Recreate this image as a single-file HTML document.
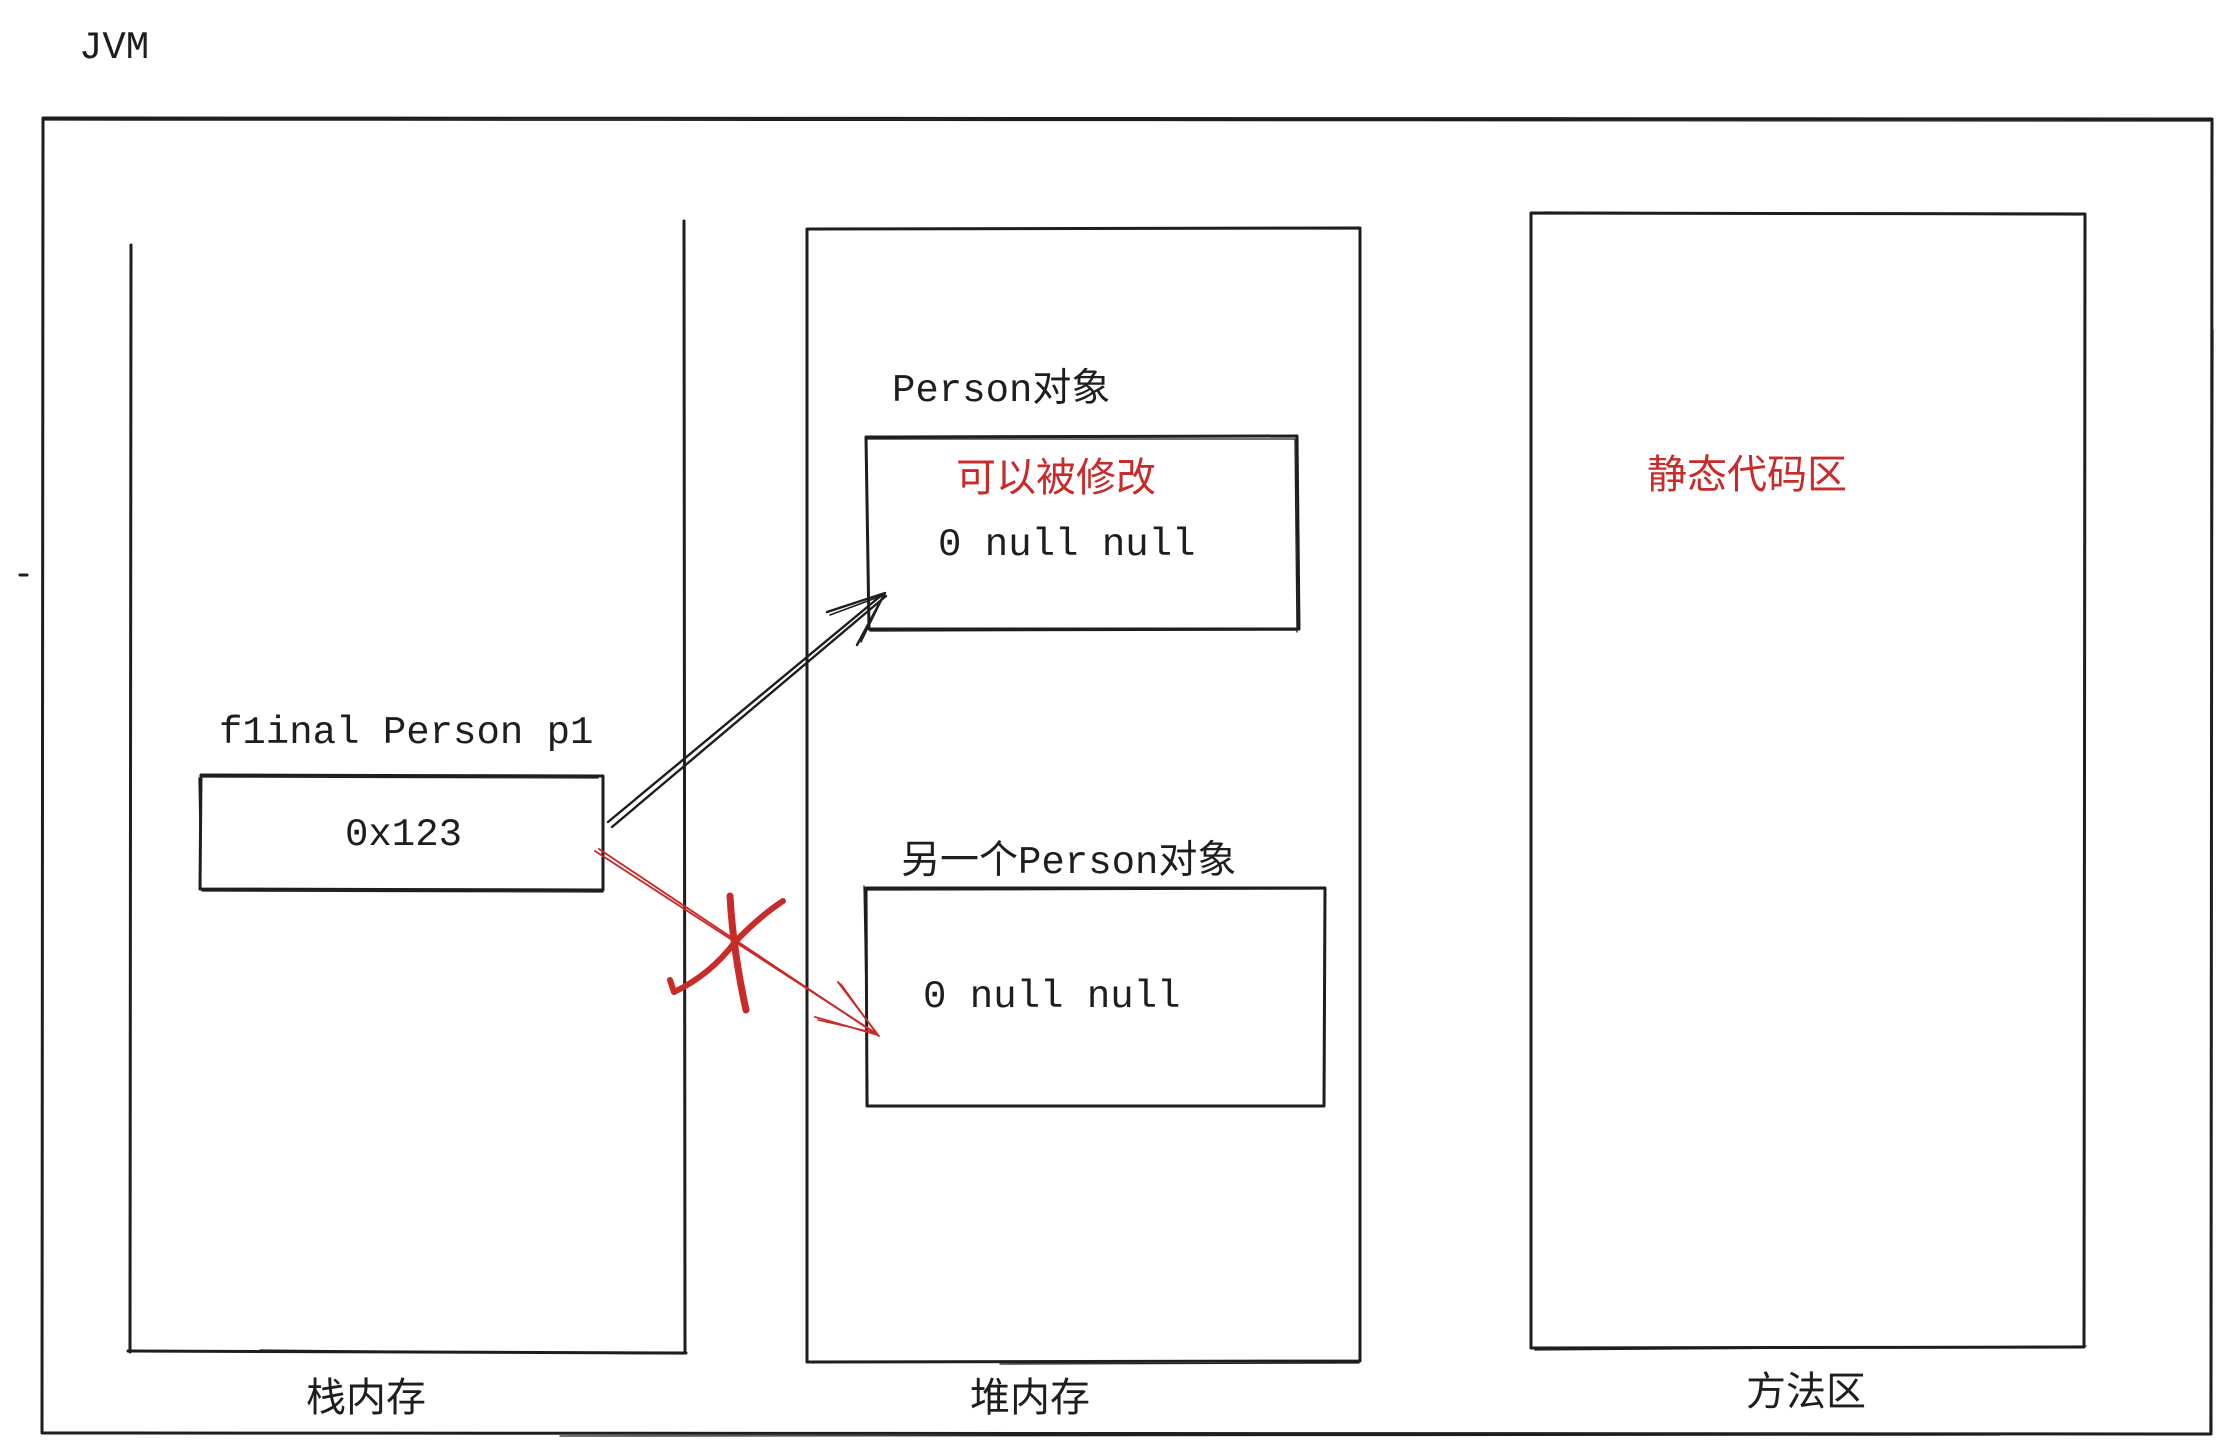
<!DOCTYPE html>
<html>
<head>
<meta charset="utf-8">
<style>
  html, body { margin:0; padding:0; background:#ffffff; }
  body { width:2231px; height:1454px; overflow:hidden; }
  svg { display:block; }
  .t { font-family: "Liberation Mono", "Noto Sans CJK SC", monospace; font-size:39px; fill:#1e1e1e; }
  .c { font-family: "Liberation Sans", "Noto Sans CJK SC", sans-serif; font-size:40px; fill:#1e1e1e; }
  .r { fill:#c92a2a; }
</style>
</head>
<body>
<svg width="2231" height="1454" viewBox="0 0 2231 1454" xmlns="http://www.w3.org/2000/svg">
  <g fill="none" stroke="#1e1e1e" stroke-linecap="round" stroke-linejoin="round">
    <!-- outer JVM rect -->
    <path d="M43 118 L2212 119 L2211 1434 L42 1433 Z" stroke-width="3"/>
    <path d="M44 120 L2210 121 M2213 330 L2210 1432 M560 1436 L2000 1435" stroke-width="1.3"/>

    <!-- stack (no top line) -->
    <path d="M131 245 L130 1352" stroke-width="3"/>
    <path d="M684 221 L685 1353" stroke-width="3"/>
    <path d="M128 1351 L686 1353" stroke-width="3"/>
    <path d="M260 1350 L684 1354" stroke-width="1.3"/>

    <!-- heap -->
    <path d="M807 229 L1360 228 L1360 1361 L807 1362 Z" stroke-width="3"/>
    <path d="M1000 1364 L1359 1363" stroke-width="1.3"/>

    <!-- method area -->
    <path d="M1531 213 L2085 214 L2084 1347 L1531 1348 Z" stroke-width="3"/>
    <path d="M1545 212 L2080 215 M1535 1350 L2086 1346" stroke-width="1.3"/>

    <!-- Person box 1 -->
    <path d="M866 437 L1297 436 L1299 629 L869 629 Z" stroke-width="3"/>
    <path d="M867 439 L1295 439 L1297 632 M870 631 L1297 630" stroke-width="1.3"/>

    <!-- Person box 2 -->
    <path d="M866 888 L1325 888 L1324 1106 L867 1106 Z" stroke-width="3"/>
    <path d="M864 886 L868 1104 M868 890 L1324 889" stroke-width="1.3"/>

    <!-- 0x123 box -->
    <path d="M201 775 L603 776 L603 890 L200 889 Z" stroke-width="3"/>
    <path d="M203 777 L598 778 M202 891 L603 892 M199 778 L201 888" stroke-width="1.3"/>

    <!-- small dash at left -->
    <path d="M20 575 L27 575" stroke-width="3"/>

    <!-- black arrow -->
    <path d="M608 822 L883 594" stroke-width="2.4"/>
    <path d="M612 827 L886 596" stroke-width="2.4"/>
    <path d="M827 612 L885 593 L857 645" stroke-width="2.4"/>
    <path d="M830 615 L884 595 L861 642" stroke-width="1.5"/>
  </g>

  <!-- red arrow -->
  <g fill="none" stroke="#c92a2a" stroke-linecap="round" stroke-linejoin="round">
    <path d="M595 851 L877 1034" stroke-width="1.9"/>
    <path d="M599 849 L879 1036" stroke-width="1.9"/>
    <path d="M838 982 L878 1035 L815 1017" stroke-width="1.9"/>
    <path d="M841 984 L876 1033 L818 1020" stroke-width="1.5"/>
    <!-- X mark -->
    <path d="M730 896 Q733 950 746 1010" stroke-width="7"/>
    <path d="M783 901 Q760 916 735 942 Q710 975 674 992 L670 980" stroke-width="6"/>
  </g>

  <!-- texts -->
  <text class="t" x="79" y="58">JVM</text>
  <text class="t" x="219" y="743">f1inal Person p1</text>
  <text class="t" x="345" y="845">0x123</text>
  <text class="t" x="892" y="401">Person对象</text>
  <text class="c r" x="956" y="491">可以被修改</text>
  <text class="t" x="938" y="555">0 null null</text>
  <text class="t" x="901" y="873">另一个Person对象</text>
  <text class="t" x="923" y="1007">0 null null</text>
  <text class="c r" x="1647" y="488">静态代码区</text>
  <text class="c" x="306" y="1411">栈内存</text>
  <text class="c" x="970" y="1411">堆内存</text>
  <text class="c" x="1746" y="1405">方法区</text>
</svg>
</body>
</html>
